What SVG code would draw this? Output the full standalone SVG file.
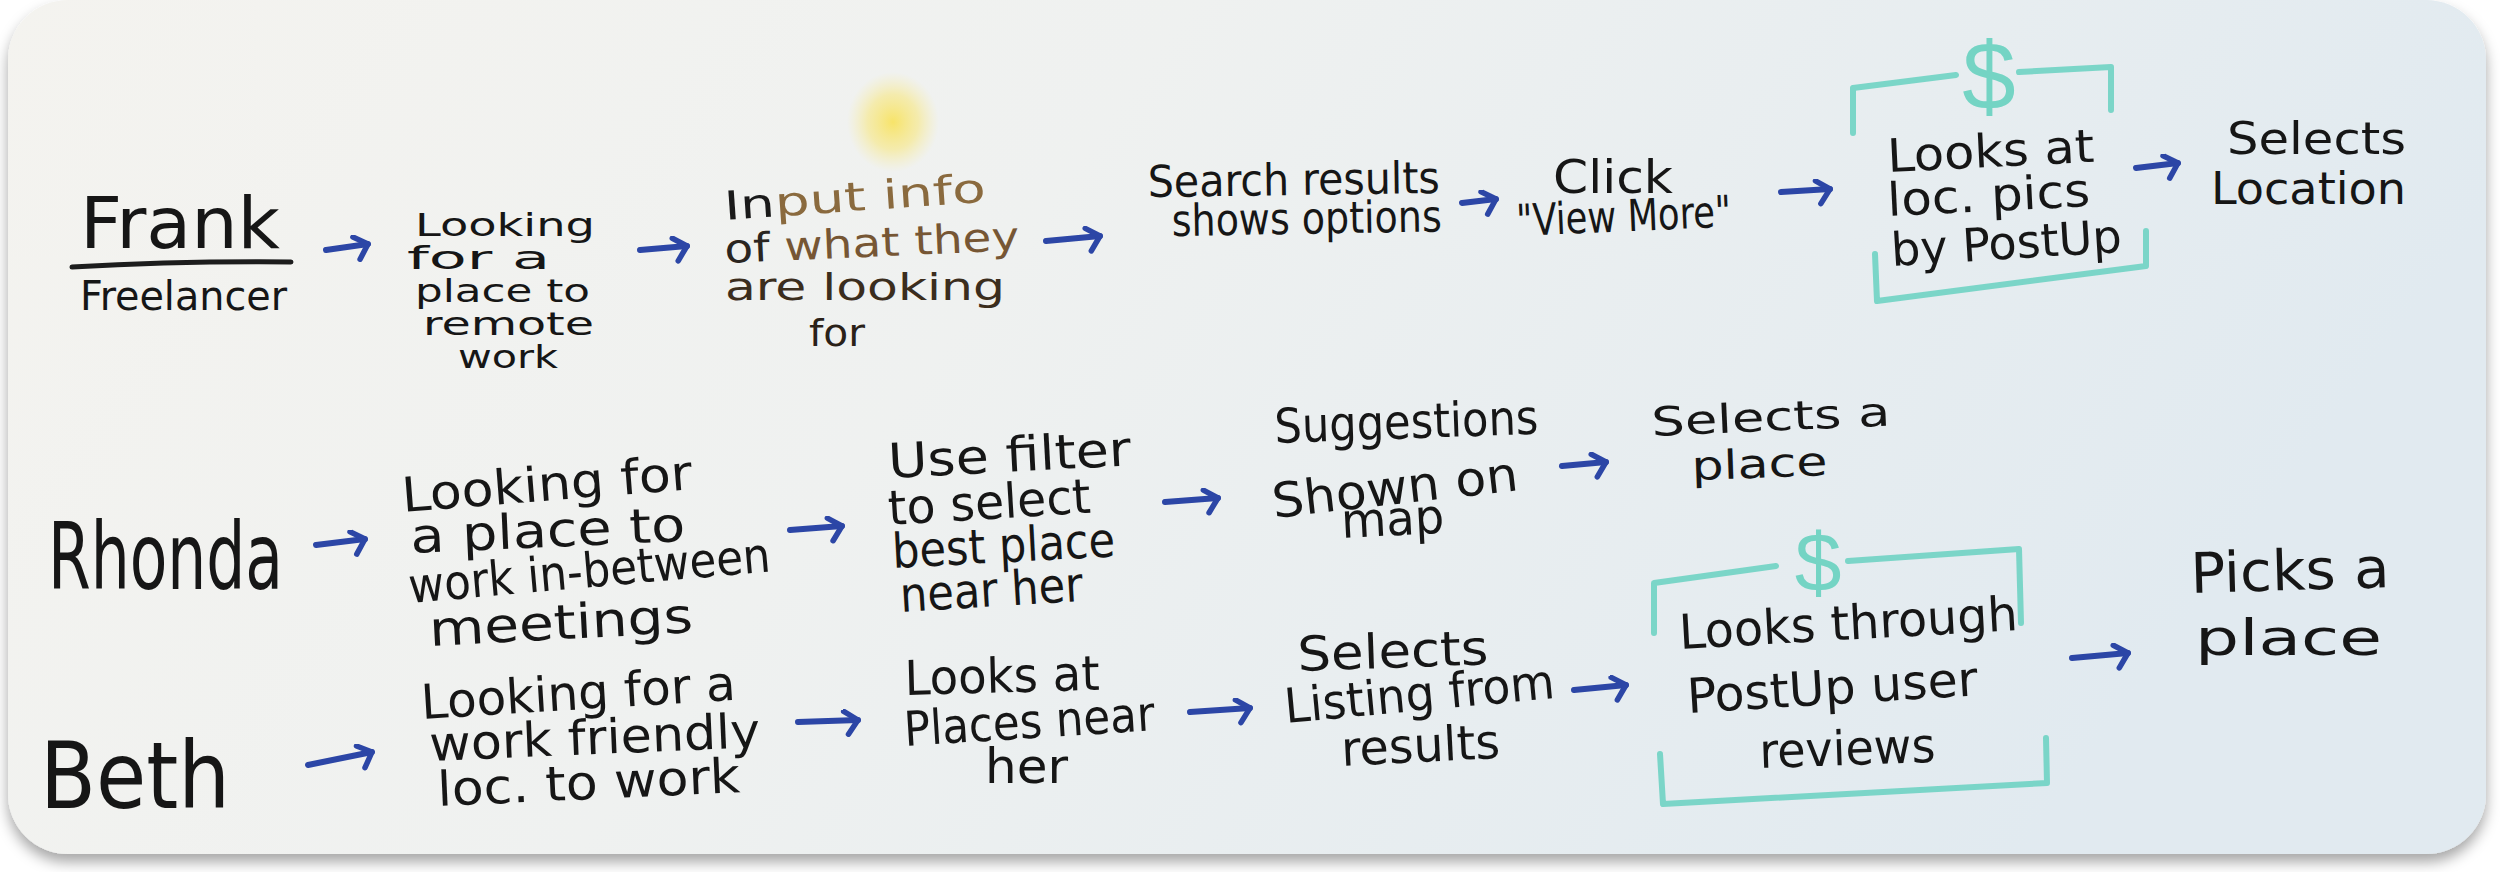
<svg xmlns="http://www.w3.org/2000/svg" width="2500" height="872" viewBox="0 0 2500 872">
<defs>
<linearGradient id="bg" x1="0" y1="0" x2="1" y2="0.25">
<stop offset="0" stop-color="#f4f3ef"/>
<stop offset="0.45" stop-color="#eff1f0"/>
<stop offset="1" stop-color="#e1eaf0"/>
</linearGradient>
<radialGradient id="glow" cx="0.5" cy="0.5" r="0.5">
<stop offset="0" stop-color="#f8e25a" stop-opacity="0.9"/>
<stop offset="0.55" stop-color="#f8e676" stop-opacity="0.55"/>
<stop offset="1" stop-color="#f8ec9a" stop-opacity="0"/>
</radialGradient>
<filter id="sh" x="-3%" y="-5%" width="106%" height="115%">
<feDropShadow dx="0" dy="8" stdDeviation="7" flood-color="#000" flood-opacity="0.35"/>
</filter>
<marker id="ah" viewBox="0 0 24 28" refX="20" refY="11" markerWidth="24" markerHeight="28" markerUnits="userSpaceOnUse" orient="auto">
<path d="M6,2 L20,11 L10,25" fill="none" stroke="#2c46a6" stroke-width="5.5" stroke-linecap="round" stroke-linejoin="round"/>
</marker>
<style>
.t{font-family:'Liberation Sans Narrow','DejaVu Sans Condensed','Liberation Sans',sans-serif;font-size:48px;fill:#161616}
.arr{fill:none;stroke:#2c46a6;stroke-width:6;stroke-linecap:round;marker-end:url(#ah)}
.br{fill:none;stroke:#6fd3c3;stroke-width:6;stroke-linecap:round;stroke-linejoin:round;opacity:0.9}
.usd{font-family:'Liberation Sans',sans-serif;fill:#74d4c4;text-anchor:middle}
</style>
</defs>

<rect x="0" y="0" width="2500" height="872" fill="#ffffff"/>
<rect x="8" y="0" width="2478" height="854" rx="60" ry="60" fill="url(#bg)" filter="url(#sh)"/>
<ellipse cx="893" cy="122" rx="46" ry="50" fill="url(#glow)"/>

<g id="connectors">
<path class="arr" d="M326,250 L368,244"/>
<path class="arr" d="M640,250 L687,246"/>
<path class="arr" d="M1046,241 L1100,236"/>
<path class="arr" d="M1462,203 L1496,199"/>
<path class="arr" d="M1781,192 L1830,189"/>
<path class="arr" d="M2136,168 L2178,163"/>
<path class="arr" d="M316,545 L365,539"/>
<path class="arr" d="M790,530 L842,526"/>
<path class="arr" d="M1165,502 L1218,498"/>
<path class="arr" d="M1562,466 L1606,462"/>
<path class="arr" d="M308,765 L372,752"/>
<path class="arr" d="M798,722 L858,720"/>
<path class="arr" d="M1190,712 L1250,708"/>
<path class="arr" d="M1574,690 L1626,685"/>
<path class="arr" d="M2072,658 L2128,653"/>
</g>

<g id="frank">
<text class="t" x="80" y="248" textLength="200" lengthAdjust="spacingAndGlyphs" style="font-size:72px">Frank</text>
<path d="M72,267 Q180,261 291,262" stroke="#1d1d1d" stroke-width="5" fill="none" stroke-linecap="round"/>
<text class="t" x="80" y="310" textLength="207" lengthAdjust="spacingAndGlyphs" style="font-size:40px">Freelancer</text>
</g>

<g id="f-looking">
<text class="t" x="415" y="236" textLength="180" lengthAdjust="spacingAndGlyphs" style="font-size:32px">Looking</text>
<text class="t" x="407" y="269" textLength="143" lengthAdjust="spacingAndGlyphs" style="font-size:32px">for a</text>
<text class="t" x="415" y="302" textLength="175" lengthAdjust="spacingAndGlyphs" style="font-size:32px">place to</text>
<text class="t" x="423" y="335" textLength="171" lengthAdjust="spacingAndGlyphs" style="font-size:32px">remote</text>
<text class="t" x="458" y="368" textLength="100" lengthAdjust="spacingAndGlyphs" style="font-size:32px">work</text>
</g>

<g id="f-input">
<text class="t" x="725" y="220" textLength="262" lengthAdjust="spacingAndGlyphs" transform="rotate(-4 725 220)" style="font-size:40px"><tspan fill="#1a1a1a">In</tspan><tspan fill="#8a6a3e">put info</tspan></text>
<text class="t" x="725" y="263" textLength="295" lengthAdjust="spacingAndGlyphs" transform="rotate(-2.5 725 263)" style="font-size:40px"><tspan fill="#2a2520">of </tspan><tspan fill="#765634">what they</tspan></text>
<text class="t" x="725" y="300" textLength="280" lengthAdjust="spacingAndGlyphs" style="font-size:38px;fill:#3b2d1d">are looking</text>
<text class="t" x="809" y="346" textLength="56" lengthAdjust="spacingAndGlyphs" style="font-size:38px;fill:#2a2118">for</text>
</g>

<g id="f-search">
<text class="t" x="1148" y="197" textLength="292" lengthAdjust="spacingAndGlyphs" transform="rotate(-0.8 1148 197)" style="font-size:44px">Search results</text>
<text class="t" x="1172" y="236" textLength="270" lengthAdjust="spacingAndGlyphs" transform="rotate(-1 1172 236)" style="font-size:44px">shows options</text>
</g>

<g id="f-click">
<text class="t" x="1553" y="193" textLength="120" lengthAdjust="spacingAndGlyphs" style="font-size:46px">Click</text>
<text class="t" x="1517" y="236" textLength="215" lengthAdjust="spacingAndGlyphs" transform="rotate(-2.5 1517 236)" style="font-size:44px">"View More"</text>
</g>

<g id="f-pics">
<path class="br" d="M1853,133 L1853,88 L1956,75 M2019,72 L2111,67 L2111,110"/>
<text class="usd" x="1989" y="109" style="font-size:96px">$</text>
<path class="br" d="M1875,254 L1877,301 L2146,266 L2146,231"/>
<text class="t" x="1888" y="172" textLength="207" lengthAdjust="spacingAndGlyphs" transform="rotate(-2.8 1888 172)" style="font-size:46px">Looks at</text>
<text class="t" x="1888" y="216" textLength="203" lengthAdjust="spacingAndGlyphs" transform="rotate(-2.8 1888 216)" style="font-size:46px">loc. pics</text>
<text class="t" x="1892" y="266" textLength="231" lengthAdjust="spacingAndGlyphs" transform="rotate(-3.5 1892 266)" style="font-size:46px">by PostUp</text>
</g>

<g id="f-selects">
<text class="t" x="2227" y="154" textLength="179" lengthAdjust="spacingAndGlyphs" style="font-size:44px">Selects</text>
<text class="t" x="2211" y="204" textLength="195" lengthAdjust="spacingAndGlyphs" style="font-size:44px">Location</text>
</g>

<g id="rhonda">
<text class="t" x="48" y="589" textLength="235" lengthAdjust="spacingAndGlyphs" style="font-size:92px">Rhonda</text>
</g>

<g id="r-looking">
<text class="t" x="403" y="512" textLength="291" lengthAdjust="spacingAndGlyphs" transform="rotate(-4.5 403 512)">Looking for</text>
<text class="t" x="411" y="553" textLength="275" lengthAdjust="spacingAndGlyphs" transform="rotate(-2.5 411 553)">a place to</text>
<text class="t" x="410" y="603" textLength="363" lengthAdjust="spacingAndGlyphs" transform="rotate(-5 410 603)">work in-between</text>
<text class="t" x="430" y="646" textLength="264" lengthAdjust="spacingAndGlyphs" transform="rotate(-3 430 646)">meetings</text>
</g>

<g id="r-filter">
<text class="t" x="889" y="478" textLength="243" lengthAdjust="spacingAndGlyphs" transform="rotate(-3 889 478)">Use filter</text>
<text class="t" x="889" y="525" textLength="203" lengthAdjust="spacingAndGlyphs" transform="rotate(-3.5 889 525)">to select</text>
<text class="t" x="893" y="568" textLength="223" lengthAdjust="spacingAndGlyphs" transform="rotate(-3 893 568)">best place</text>
<text class="t" x="901" y="612" textLength="183" lengthAdjust="spacingAndGlyphs" transform="rotate(-3.5 901 612)">near her</text>
</g>

<g id="r-suggestions">
<text class="t" x="1275" y="443" textLength="264" lengthAdjust="spacingAndGlyphs" transform="rotate(-2 1275 443)">Suggestions</text>
<text class="t" x="1274" y="518" textLength="247" lengthAdjust="spacingAndGlyphs" transform="rotate(-6.5 1274 518)">Shown on</text>
<text class="t" x="1342" y="538" textLength="103" lengthAdjust="spacingAndGlyphs" transform="rotate(-3 1342 538)">map</text>
</g>

<g id="r-selects">
<text class="t" x="1652" y="436" textLength="239" lengthAdjust="spacingAndGlyphs" transform="rotate(-2.5 1652 436)" style="font-size:40px">Selects a</text>
<text class="t" x="1692" y="480" textLength="136" lengthAdjust="spacingAndGlyphs" transform="rotate(-2 1692 480)" style="font-size:40px">place</text>
</g>

<g id="beth">
<text class="t" x="40" y="808" textLength="190" lengthAdjust="spacingAndGlyphs" style="font-size:92px">Beth</text>
</g>

<g id="b-looking">
<text class="t" x="422" y="719" textLength="315" lengthAdjust="spacingAndGlyphs" transform="rotate(-3.5 422 719)">Looking for a</text>
<text class="t" x="430" y="761" textLength="331" lengthAdjust="spacingAndGlyphs" transform="rotate(-2.4 430 761)">work friendly</text>
<text class="t" x="438" y="806" textLength="303" lengthAdjust="spacingAndGlyphs" transform="rotate(-2.6 438 806)">loc. to work</text>
</g>

<g id="b-places">
<text class="t" x="905" y="695" textLength="195" lengthAdjust="spacingAndGlyphs" transform="rotate(-1.5 905 695)">Looks at</text>
<text class="t" x="905" y="746" textLength="251" lengthAdjust="spacingAndGlyphs" transform="rotate(-3.6 905 746)">Places near</text>
<text class="t" x="985" y="783" textLength="83" lengthAdjust="spacingAndGlyphs">her</text>
</g>

<g id="b-listing">
<text class="t" x="1298" y="671" textLength="191" lengthAdjust="spacingAndGlyphs" transform="rotate(-2 1298 671)">Selects</text>
<text class="t" x="1286" y="723" textLength="271" lengthAdjust="spacingAndGlyphs" transform="rotate(-5.3 1286 723)">Listing from</text>
<text class="t" x="1342" y="766" textLength="159" lengthAdjust="spacingAndGlyphs" transform="rotate(-2.9 1342 766)">results</text>
</g>

<g id="b-reviews">
<path class="br" d="M1654,633 L1654,583 L1776,566 M1848,561 L2019,549 L2021,623"/>
<text class="usd" x="1818" y="591" style="font-size:84px">$</text>
<path class="br" d="M1660,754 L1663,804 L2047,783 L2046,738"/>
<text class="t" x="1680" y="649" textLength="339" lengthAdjust="spacingAndGlyphs" transform="rotate(-3.2 1680 649)">Looks through</text>
<text class="t" x="1688" y="713" textLength="291" lengthAdjust="spacingAndGlyphs" transform="rotate(-3.5 1688 713)">PostUp user</text>
<text class="t" x="1760" y="768" textLength="176" lengthAdjust="spacingAndGlyphs" transform="rotate(-2 1760 768)">reviews</text>
</g>

<g id="b-picks">
<text class="t" x="2191" y="593" textLength="199" lengthAdjust="spacingAndGlyphs" transform="rotate(-1.7 2191 593)" style="font-size:56px">Picks a</text>
<text class="t" x="2195" y="655" textLength="187" lengthAdjust="spacingAndGlyphs" style="font-size:50px">place</text>
</g>
</svg>
